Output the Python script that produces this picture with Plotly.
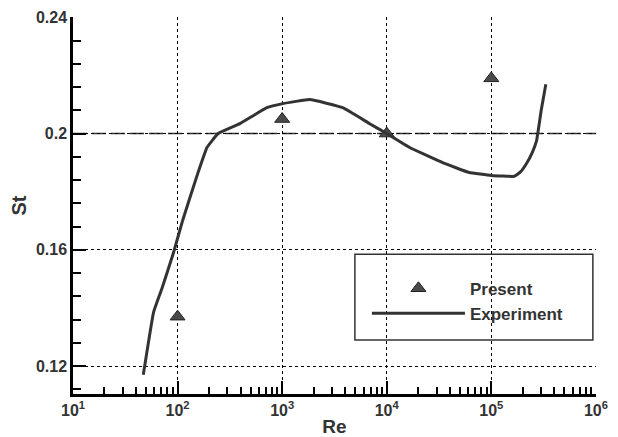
import plotly.graph_objects as go

# Present (simulation) results
present_re = [1e2, 1e3, 1e4, 1e5]
present_st = [0.137, 0.205, 0.200, 0.219]

# Experimental curve
exp_re = [47, 59, 71, 91, 112, 156, 191, 244, 394, 713, 1014, 1837, 3800, 6870,
          10000, 16600, 34200, 61400, 100000, 166000, 190000, 217000, 245000,
          271000, 300000, 332000]
exp_st = [0.117, 0.1386, 0.1468, 0.1588, 0.1702, 0.1863, 0.1952, 0.2000, 0.2034,
          0.2089, 0.2103, 0.2117, 0.2089, 0.2034, 0.2000, 0.1952, 0.1900, 0.1866,
          0.1856, 0.1853, 0.1868, 0.1897, 0.1933, 0.1976, 0.2080, 0.2170]

ref_st = 0.2
x_ticks = [1e1, 1e2, 1e3, 1e4, 1e5, 1e6]
x_ticktext = ["10<sup>1</sup>", "10<sup>2</sup>", "10<sup>3</sup>",
              "10<sup>4</sup>", "10<sup>5</sup>", "10<sup>6</sup>"]
y_ticks = [0.12, 0.16, 0.2, 0.24]
y_ticktext = ["0.12", "0.16", "0.2", "0.24"]

font_family = "Liberation Sans, Arial, sans-serif"

fig = go.Figure()
fig.add_trace(go.Scatter(
    x=present_re, y=present_st, mode="markers", name="Present",
    legendgroup="a",
    marker=dict(symbol="triangle-up", size=13, color="#4a4a4a",
                line=dict(color="#222", width=1)),
))
fig.add_trace(go.Scatter(
    x=exp_re, y=exp_st, mode="lines", name="Experiment",
    legendgroup="b",
    line=dict(color="#333333", width=3, shape="spline", smoothing=0.3),
))

minor_x = [m * 10 ** d for d in range(1, 6) for m in range(2, 10)]

# page body has an 8px default margin, so the figure is 8px smaller
fig.update_layout(
    width=610, height=429,
    margin=dict(l=65, r=22, t=9, b=43, autoexpand=False),
    paper_bgcolor="white", plot_bgcolor="white",
    font=dict(family=font_family, color="black"),
    showlegend=True,
    legend=dict(x=0.562, y=0.327, xanchor="left", yanchor="top",
                bgcolor="rgba(0,0,0,0)", borderwidth=0,
                font=dict(size=17, family=font_family, weight="bold", color="#333"),
                itemwidth=93, tracegroupgap=0),
    xaxis=dict(
        type="log", range=[1, 6.001], tickvals=x_ticks, ticktext=x_ticktext,
        automargin=False,
        showgrid=True, gridcolor="black", griddash="dot", gridwidth=1,
        showline=True, linecolor="black", linewidth=2.5,
        ticks="inside", ticklen=13, tickwidth=2, tickcolor="black",
        tickfont=dict(size=16, family=font_family, weight="bold", color="#333"),
        minor=dict(tickvals=minor_x, ticks="inside", ticklen=7, tickwidth=1.5,
                   tickcolor="black", showgrid=False),
        title=dict(text="Re", font=dict(size=19, family=font_family, weight="bold",
                                        color="#333"),
                   standoff=6),
        zeroline=False,
    ),
    yaxis=dict(
        range=[0.1104, 0.2401], tickvals=y_ticks, ticktext=y_ticktext,
        automargin=False,
        showgrid=True, gridcolor="black", griddash="dot", gridwidth=1,
        showline=True, linecolor="black", linewidth=2.5,
        ticks="inside", ticklen=13, tickwidth=2, tickcolor="black",
        tickfont=dict(size=16, family=font_family, weight="bold", color="#333"),
        minor=dict(dtick=0.008, tick0=0.112, ticks="inside", ticklen=8,
                   tickwidth=1.5, tickcolor="black", showgrid=False),
        title=dict(text="St", font=dict(size=20, family=font_family, weight="bold",
                                        color="#333"),
                   standoff=8),
        zeroline=False,
    ),
    shapes=[
        dict(type="line", xref="paper", yref="y", x0=0, x1=1, y0=ref_st, y1=ref_st,
             line=dict(color="#333", width=1.5, dash="14px,5px"), layer="below"),
        dict(type="rect", xref="paper", yref="paper", x0=0.539, x1=0.994,
             y0=0.143, y1=0.371, line=dict(color="#333", width=1.5),
             fillcolor="rgba(0,0,0,0)"),
    ],
)

fig.write_html("out.html")
